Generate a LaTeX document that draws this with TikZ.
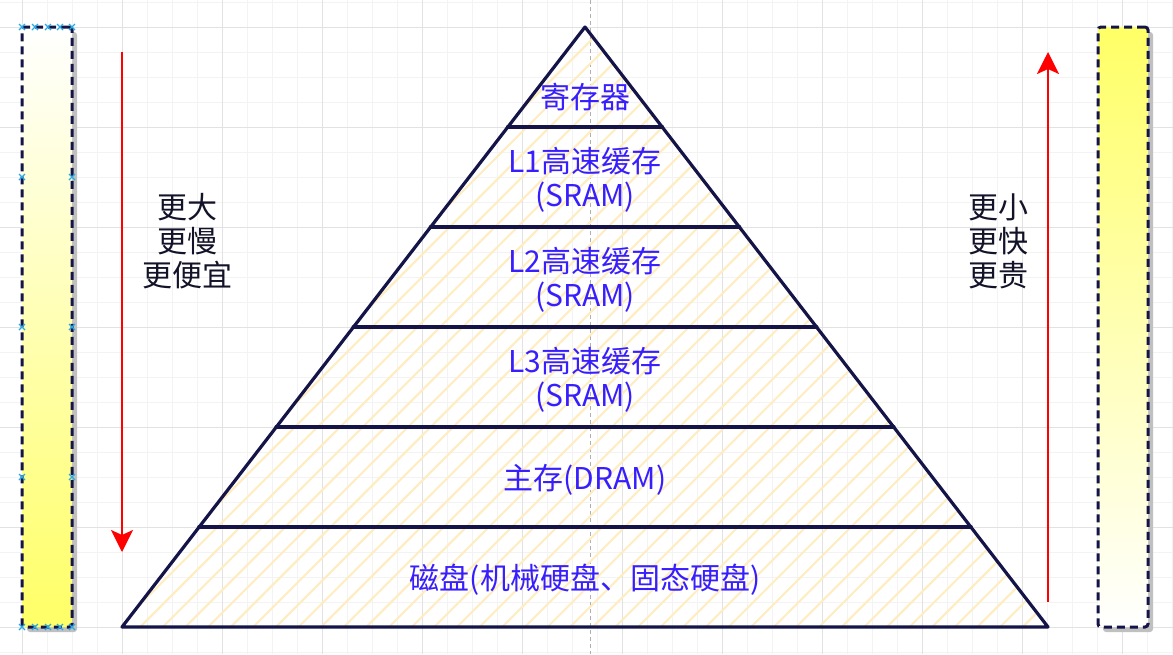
\documentclass[tikz,border=0pt]{standalone}
\usepackage{fontspec}
\newfontfamily\cjk{Noto Sans CJK SC}
\usetikzlibrary{patterns.meta,arrows.meta,calc}
\definecolor{navy}{RGB}{20,20,72}
\definecolor{sidetext}{RGB}{18,18,40}
\definecolor{labelblue}{RGB}{55,30,255}
\definecolor{hatch}{RGB}{255,237,192}
\definecolor{gridminor}{RGB}{243,243,243}
\definecolor{gridmajor}{RGB}{226,226,226}
\definecolor{barYellow}{RGB}{255,255,102}
\definecolor{arrowred}{RGB}{255,0,0}
\definecolor{handle}{RGB}{40,170,230}
\definecolor{guide}{RGB}{175,175,175}
\definecolor{shadowgray}{RGB}{192,192,192}
\begin{document}
\begin{tikzpicture}[x=1pt,y=-1pt,
  lbl/.style={text=labelblue, align=center, font=\cjk\fontsize{30}{34}\selectfont, inner sep=0pt},
  side/.style={text=sidetext, align=center, font=\cjk\fontsize{30}{34}\selectfont, inner sep=0pt},
  sepline/.style={draw=navy, line width=4pt, line cap=round},
  outline/.style={draw=navy, line width=3.2pt, line join=round},
  redarrow/.style={draw=arrowred, line width=2.4pt, -{Stealth[length=22pt,width=22pt,inset=5pt]}},
  bar/.style={draw=navy, line width=3pt, dash pattern=on 8pt off 5pt, rounded corners=3pt,
    minimum width=50pt, minimum height=600pt, inner sep=0pt},
  barshadow/.style={fill=shadowgray, rounded corners=3pt},
  handlemark/.style={draw=handle, line width=1.2pt}
]
\useasboundingbox (0,0) rectangle (1173,654);
\fill[white] (0,0) rectangle (1173,654);
% grid
\foreach \x in {-3,22,...,1172} \draw[gridminor, line width=1pt] (\x,0) -- (\x,654);
\foreach \y in {2,27,...,652} \draw[gridminor, line width=1pt] (0,\y) -- (1173,\y);
\foreach \x in {22,122,...,1172} \draw[gridmajor, line width=1pt] (\x,0) -- (\x,654);
\foreach \y in {27,127,...,652} \draw[gridmajor, line width=1pt] (0,\y) -- (1173,\y);
% centre guide
\draw[guide, line width=0.8pt, dash pattern=on 4pt off 3pt] (590,0) -- (590,654);

% pyramid
\coordinate (apex) at (585,27);
\coordinate (bl) at (122,627);
\coordinate (br) at (1048,627);
\path[pattern={Lines[angle=45,distance=16pt,line width=2pt]}, pattern color=hatch] (apex) -- (bl) -- (br) -- cycle;
\foreach \k in {1,...,5} {
  \draw[sepline] ($(apex)!\k/6!(bl)$) -- ($(apex)!\k/6!(br)$);
}
\draw[outline] (apex) -- (bl) -- (br) -- cycle;

% labels
\node[lbl] (reg) at (585,97) {寄存器};
\node[lbl] (l1) at (585,180) {L1高速缓存\\(SRAM)};
\node[lbl] (l2) at (585,280) {L2高速缓存\\(SRAM)};
\node[lbl] (l3) at (585,380) {L3高速缓存\\(SRAM)};
\node[lbl] (dram) at (585,480) {主存(DRAM)};
\node[lbl] (disk) at (585,580) {磁盘(机械硬盘、固态硬盘)};

% side bars
\fill[barshadow] (27,32) rectangle (77,632);
\fill[barshadow] (1103,32) rectangle (1153,632);
\node[bar, top color=white, bottom color=barYellow] (leftbar) at (47,327) {};
\node[bar, top color=barYellow, bottom color=white] (rightbar) at (1123,327) {};
\foreach \x/\y in {22/27,35/27,48/27,60/27,72/27,22/177,72/177,22/327,72/327,22/477,72/477,22/627,35/627,48/627,60/627,72/627}
  \draw[handlemark] (\x-3,\y-3) -- (\x+3,\y+3) (\x-3,\y+3) -- (\x+3,\y-3);

% arrows
\coordinate (ls) at (122,52);
\coordinate (le) at (122,552);
\draw[redarrow] (ls) -- (le);
\coordinate (rs) at (1048,602);
\coordinate (re) at (1048,52);
\draw[redarrow] (rs) -- (re);

% side texts
\node[side] (lefttext) at (187,241) {更大\\更慢\\更便宜};
\node[side] (righttext) at (998,241) {更小\\更快\\更贵};
\end{tikzpicture}
\end{document}
